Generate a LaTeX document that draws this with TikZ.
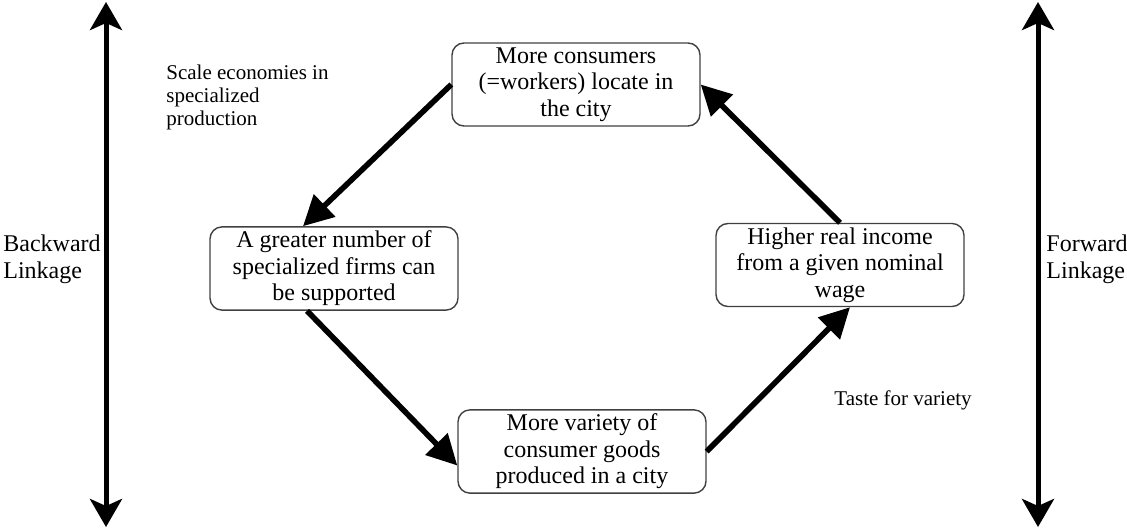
\documentclass[tikz,border=0pt]{standalone}
\usepackage{fontspec}
\setmainfont{Liberation Serif}
\usepackage{tikz}
\usetikzlibrary{arrows.meta,calc}

\begin{document}
\begin{tikzpicture}[x=0.5pt,y=-0.5pt,
  boxstyle/.style={draw=black!75,line width=0.7pt,rounded corners=6pt,minimum width=124pt,minimum height=41.5pt,align=center,inner sep=2pt,font=\fontsize{12}{13.3}\selectfont},
  flowarrow/.style={line width=2.8pt,-{Triangle[length=15pt,width=15pt]}},
  linkarrow/.style={line width=2.5pt,{Stealth[length=14pt,width=16pt,inset=3.5pt]}-{Stealth[length=14pt,width=16pt,inset=3.5pt]}},
  bigtext/.style={anchor=west,align=left,inner sep=0pt,font=\fontsize{12}{13.3}\selectfont},
  smalltext/.style={anchor=west,align=left,inner sep=0pt,font=\fontsize{10.5}{11.5}\selectfont}]

 \useasboundingbox (0,0) rectangle (1127,529);

 % the four boxes of the cycle
 \node[boxstyle] (consumers) at (576,84.5) {More consumers\\(=workers) locate in\\the city};
 \node[boxstyle] (firms) at (334,268.5) {A greater number of\\specialized firms can\\be supported};
 \node[boxstyle] (variety) at (582,451.5) {More variety of\\consumer goods\\produced in a city};
 \node[boxstyle] (income) at (840,265) {Higher real income\\from a given nominal\\wage};

 \draw[flowarrow] (consumers.west) -- ([xshift=-15.5pt]firms.north);
 \draw[flowarrow] ([xshift=-13.5pt]firms.south) -- ([yshift=-7pt]variety.west);
 \draw[flowarrow] (variety.east) -- ([xshift=5pt]income.south);
 \draw[flowarrow] (income.north) -- (consumers.east);

 % side texts
 \node[smalltext] (scale) at (166,97) {Scale economies in\\specialized\\production};
 \node[smalltext] (taste) at (834,400) {Taste for variety};
 \node[bigtext] (backward) at (3,259) {Backward\\Linkage};
 \node[bigtext] (forward) at (1046,259) {Forward\\Linkage};

 % linkage arrows
 \coordinate (backtop) at (106,2);
 \coordinate (backbot) at (106,527);
 \coordinate (fortop) at (1038,2);
 \coordinate (forbot) at (1038,527);
 \draw[linkarrow] (backtop) -- (backbot);
 \draw[linkarrow] (fortop) -- (forbot);
\end{tikzpicture}
\end{document}
